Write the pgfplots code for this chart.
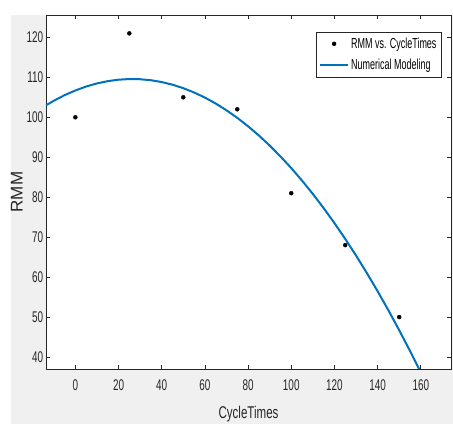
\documentclass[border=0pt]{standalone}
\usepackage{pgfplots}
\pgfplotsset{compat=1.18}
\usepackage{fontspec}
\setmainfont{Liberation Sans}
\definecolor{mblue}{RGB}{0,114,189}
\definecolor{axgray}{RGB}{38,38,38}
\definecolor{figbg}{RGB}{240,240,240}
\pgfplotsset{
 mylineleg/.style={legend image code/.code={\draw[##1] (0pt,0pt) -- (28pt,0pt);}},
 mymarkleg/.style={legend image code/.code={\draw[mark repeat=2,mark phase=2,##1] plot coordinates {(0pt,0pt) (14pt,0pt) (28pt,0pt)};}},
}
\begin{document}
\begin{tikzpicture}
\fill[white] (-46pt,-55pt) rectangle (407pt,369pt);
\fill[figbg] (-35pt,-55pt) rectangle (407pt,354pt);
\begin{axis}[
 at={(0pt,0pt)}, anchor=south west,
 scale only axis, width=405pt, height=354pt,
 xmin=-13.6, xmax=174, ymin=37, ymax=125.6,
 xtick={0,20,...,160}, ytick={40,50,...,120},
 tick align=inside, major tick length=4pt,
 axis background/.style={fill=white},
 axis line style={axgray, line width=0.6pt},
 tick style={axgray, line width=0.6pt},
 /pgf/number format/assume math mode=true,
 tick label style={font=\fontsize{15.5}{18}\selectfont, text=axgray, xscale=0.64},
 xticklabel style={yshift=-7pt},
 yticklabel style={xshift=-1pt},
 xlabel={CycleTimes}, ylabel={RMM},
 label style={font=\fontsize{17}{20}\selectfont, text=axgray},
 xlabel style={at={(axis description cs:0.5,-0.128)}, anchor=center, xscale=0.68},
 ylabel style={at={(axis description cs:-0.072,0.5)}, anchor=center},
 legend cell align=left,
 legend style={at={(axis description cs:0.977,0.953)}, anchor=north east,
   draw=axgray, fill=white, font=\fontsize{14.5}{16}\selectfont,
   row sep=5pt, inner xsep=3pt, inner ysep=4pt},
]
\addplot[only marks, mark=*, mark size=2pt, black, mymarkleg]
 coordinates {(0,100) (25,121) (50,105) (75,102) (100,81) (125,68) (150,50)};
\addlegendentry{\scalebox{0.62}[1]{RMM vs. CycleTimes}}
\addplot[mblue, line width=2pt, no marks, mylineleg]
 coordinates {(-14,102.87) (-10,104.13) (-5,105.53) (0,106.71) (5,107.70) (10,108.47) (15,109.04) (20,109.41) (25,109.57) (30,109.52) (35,109.27) (40,108.82) (45,108.15) (50,107.29) (55,106.21) (60,104.93) (65,103.45) (70,101.75) (75,99.86) (80,97.75) (85,95.45) (90,92.93) (95,90.21) (100,87.29) (105,84.15) (110,80.82) (115,77.27) (120,73.52) (125,69.57) (130,65.41) (135,61.04) (140,56.47) (145,51.70) (150,46.71) (155,41.53) (160,36.12)};
\addlegendentry{\scalebox{0.62}[1]{Numerical Modeling}}
\end{axis}
\end{tikzpicture}
\end{document}
